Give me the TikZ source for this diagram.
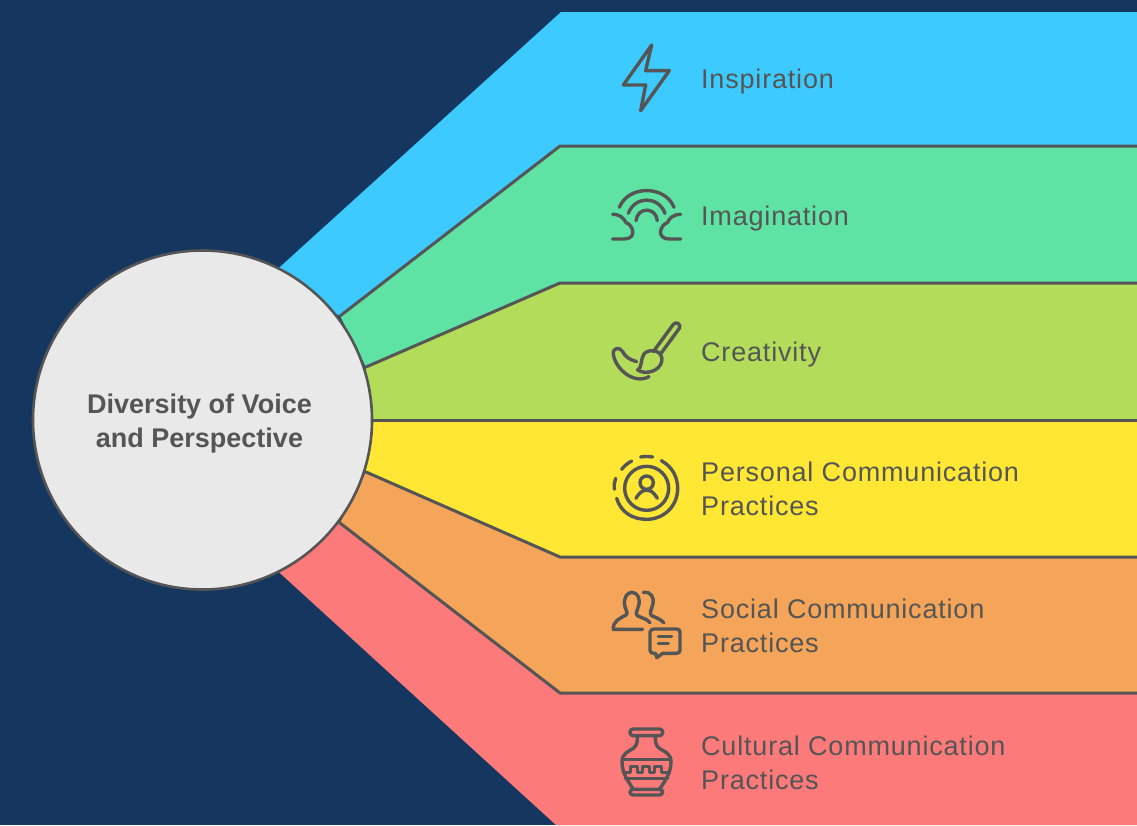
\documentclass[tikz,border=0pt]{standalone}
\usepackage{fontspec}
\setmainfont{Liberation Sans}
\newfontfamily\labelfont[LetterSpace=3]{Liberation Sans}
\definecolor{navy}{HTML}{14365F}
\definecolor{ink}{HTML}{555555}
\definecolor{cblue}{HTML}{3DCBFF}
\definecolor{cgreen}{HTML}{5FE3A5}
\definecolor{clime}{HTML}{B3DC5A}
\definecolor{cyellow}{HTML}{FFE733}
\definecolor{corange}{HTML}{F4A559}
\definecolor{cred}{HTML}{FD7A7A}
\definecolor{cgrey}{HTML}{E9E9E9}
\tikzset{
  edge/.style={draw=ink,line width=3pt,line join=round},
  icon/.style={draw=ink,line width=3.4pt,line cap=round,line join=round},
  label/.style={anchor=base west,inner sep=0pt,text=ink,font=\labelfont\fontsize{27}{34}\selectfont},
  hub/.style={circle,draw=ink,line width=2.6pt,fill=cgrey,minimum size=339pt,inner sep=0pt},
  hubtext/.style={anchor=base,inner sep=0pt,text=ink,font=\fontsize{27}{34}\selectfont\bfseries},
}
\begin{document}
\begin{tikzpicture}[x=1pt,y=-1pt]
\useasboundingbox (0,0) rectangle (1137,825);
\fill[navy] (0,0) rectangle (1137,825);
\fill[cblue] (270,276) -- (561,12) -- (1137,12) -- (1137,146) -- (560,146) -- (340,316) -- cycle;
\fill[cgreen] (340,316) -- (560,146) -- (1137,146) -- (1137,283) -- (560,283) -- (366,367) -- cycle;
\fill[clime] (366,367) -- (560,283) -- (1137,283) -- (1137,420) -- (360,420) -- cycle;
\fill[cyellow] (360,420) -- (1137,420) -- (1137,557) -- (560,557) -- (366,472) -- cycle;
\fill[corange] (366,472) -- (560,557) -- (1137,557) -- (1137,693) -- (560,693) -- (340,523) -- cycle;
\fill[cred] (340,523) -- (560,693) -- (1137,693) -- (1137,825) -- (556,825) -- (270,564) -- cycle;
\draw[edge] (340,316) -- (560,146) -- (1137,146);
\draw[edge] (366,367) -- (560,283) -- (1137,283);
\draw[edge] (360,420) -- (1137,420);
\draw[edge] (366,472) -- (560,557) -- (1137,557);
\draw[edge] (340,523) -- (560,693) -- (1137,693);
\node[hub] (hub) at (202.5,420) {};
\node[hubtext] (hubA) at (199.5,413) {Diversity of Voice};
\node[hubtext] (hubB) at (199.5,447) {and Perspective};
\node[label] (t1) at (701,88) {Inspiration};
\node[label] (t2) at (701,225) {Imagination};
\node[label] (t3) at (701,361) {Creativity};
\node[label] (t4a) at (701,481) {Personal Communication};
\node[label] (t4b) at (701,515) {Practices};
\node[label] (t5a) at (701,618) {Social Communication};
\node[label] (t5b) at (701,652) {Practices};
\node[label] (t6a) at (701,755) {Cultural Communication};
\node[label] (t6b) at (701,789) {Practices};
% bolt, rainbow
\begin{scope}[shift={(600,30)},x=0.3333pt,y=-0.3333pt,every path/.style={icon}]
\draw (155,45) -- (137,122) -- (208,122) -- (122,242) -- (137,165) -- (70,165) -- cycle;
\draw (58,532) .. controls (85,465) and (195,465) .. (222,532);
\draw (85,550) .. controls (105,497) and (175,497) .. (195,550);
\draw (108,572) .. controls (112,530) and (168,530) .. (172,572);
\draw (38,553) .. controls (60,553) and (72,565) .. (78,578) .. controls (100,585) and (112,627) .. (72,627) -- (38,627);
\draw (242,553) .. controls (220,553) and (208,565) .. (202,578) .. controls (180,585) and (168,627) .. (208,627) -- (242,627);
\end{scope}
% brush, person
\begin{scope}[shift={(600,310)},x=0.3333pt,y=-0.3333pt,every path/.style={icon}]
\draw (160,125) -- (220,43) .. controls (228,33) and (245,42) .. (238,55) -- (183,130);
\draw (133,130) .. controls (155,112) and (192,125) .. (185,155) .. controls (178,185) and (135,195) .. (113,180) .. controls (128,172) and (120,148) .. (133,130);
\draw (110,155) .. controls (90,150) and (75,140) .. (68,125) .. controls (60,110) and (38,112) .. (40,132) .. controls (45,175) and (100,225) .. (147,200);
\draw (140,535) circle (66);
\draw (140,518) circle (20);
\draw (108,565) .. controls (120,545) and (128,541) .. (140,541) .. controls (152,541) and (160,545) .. (172,565);
\draw (184,452) .. controls (220,472) and (233,505) .. (233,535) .. controls (233,590) and (190,628) .. (140,628) .. controls (95,628) and (62,605) .. (50,565);
\draw (43,538) .. controls (42,525) and (43,515) .. (47,505);
\draw (65,478) .. controls (73,468) and (83,459) .. (95,453);
\draw (122,441) .. controls (134,439) and (146,439) .. (158,441);
\end{scope}
% people, vase
\begin{scope}[shift={(600,585)},x=0.3333pt,y=-0.3333pt,every path/.style={icon}]
\draw (128,133) -- (40,133) .. controls (38,108) and (60,100) .. (78,90) .. controls (85,85) and (78,78) .. (75,65) .. controls (68,40) and (82,22) .. (95,22) .. controls (112,22) and (122,40) .. (116,62) .. controls (112,78) and (105,85) .. (112,92) .. controls (125,100) and (140,100) .. (150,113);
\draw (130,22) .. controls (150,18) and (165,35) .. (158,60) .. controls (154,75) and (147,85) .. (155,92) .. controls (168,98) and (182,102) .. (192,114);
\draw (162,132) -- (230,132) .. controls (236,132) and (240,136) .. (240,142) -- (240,195) .. controls (240,201) and (236,205) .. (230,205) -- (188,205) -- (170,218) -- (167,205) -- (160,205) .. controls (154,205) and (150,201) .. (150,195) -- (150,142) .. controls (150,136) and (156,132) .. (162,132) -- cycle;
\draw (175,155) -- (215,155);
\draw (175,175) -- (205,175);
\draw[rounded corners=3pt] (90,432) rectangle (188,452);
\draw (112,452) .. controls (112,470) and (112,480) .. (100,490) .. controls (85,500) and (66,505) .. (66,530) .. controls (66,565) and (85,590) .. (100,613);
\draw (166,452) .. controls (166,470) and (166,480) .. (178,490) .. controls (193,500) and (213,505) .. (213,530) .. controls (213,565) and (194,590) .. (178,613);
\draw[rounded corners=3pt] (90,613) rectangle (188,630);
\draw (68,523) -- (211,523);
\draw (76,580) -- (203,580);
\draw (70,563) -- (92,563) -- (92,544) -- (112,544) -- (112,563) -- (128,563) -- (128,544) -- (148,544) -- (148,563) -- (164,563) -- (164,544) -- (184,544) -- (184,563) -- (208,563);
\end{scope}
\end{tikzpicture}
\end{document}
